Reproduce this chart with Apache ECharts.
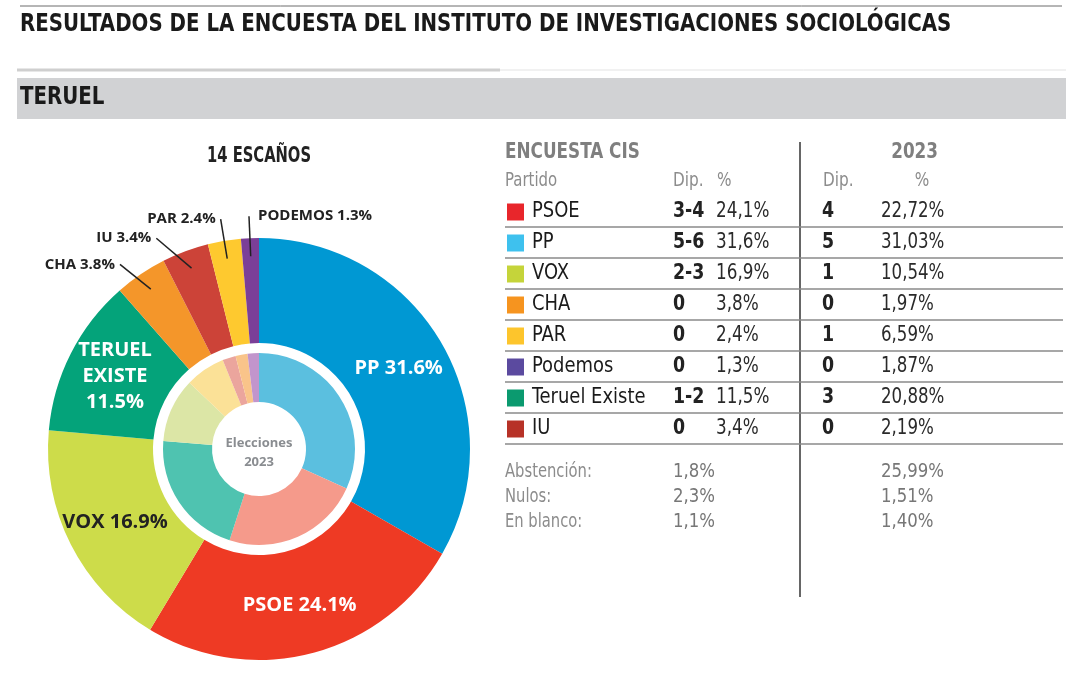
<!DOCTYPE html>
<html>
<head>
<meta charset="utf-8">
<script src="https://cdn.jsdelivr.net/npm/echarts@6/dist/echarts.min.js"></script>
<style>
  html, body { margin: 0; padding: 0; background: #fff; }
  #chart { width: 1080px; height: 675px; }
</style>
</head>
<body>
<div id="chart"></div>
<script>
// table rows, in the order of the table
const parties = ['PSOE', 'PP', 'VOX', 'CHA', 'PAR', 'Podemos', 'Teruel Existe', 'IU']
const pieNames = ['PSOE', 'PP', 'VOX', 'CHA', 'PAR', 'PODEMOS', 'TERUEL\nEXISTE', 'IU']
const dipCis = ['3-4', '5-6', '2-3', '0', '0', '0', '1-2', '0']
const pctCis = [24.1, 31.6, 16.9, 3.8, 2.4, 1.3, 11.5, 3.4]
const dip2023 = ['4', '5', '1', '0', '1', '0', '3', '0']
const pct2023 = [22.72, 31.03, 10.54, 1.97, 6.59, 1.87, 20.88, 2.19]
const otherLabels = ['Abstención:', 'Nulos:', 'En blanco:']
const otherCis = [1.8, 2.3, 1.1]
const other2023 = [25.99, 1.51, 1.40]
const seats = 14

// colours
const tableColors = ['#e8262b', '#3ec1ee', '#c5d43a', '#f6941f', '#fdc52c', '#5b4a9f', '#0b9a6f', '#b73227']
const outerColors = ['#ee3a24', '#0098d3', '#cddc4a', '#f4962a', '#fec92f', '#7b3f98', '#04a37a', '#cc4338']
const innerColors = ['#f59a8b', '#5bbfdf', '#dce6a6', '#f9c48a', '#fbe197', '#c295cc', '#4fc3b0', '#eba59d']

// no narrow font installed, so condensed text is squeezed with scaleX
const narrow = '"Liberation Sans Narrow", "DejaVu Sans Condensed", sans-serif'
const sans = '"Open Sans", "Noto Sans", sans-serif'

const fmtComma = (v, d) => v.toFixed(d).replace('.', ',') + '%'

// leader line lengths for the small slices
const smallLines = { CHA: [12, 14], IU: [14, 24], PAR: [22, 0], PODEMOS: [22, 0] }

// slices, sorted like the rings (largest first, clockwise from the top)
const outerData = parties.map((p, i) => {
  const small = !!smallLines[pieNames[i]]
  const item = { name: pieNames[i], value: pctCis[i], itemStyle: { color: outerColors[i] } }
  if (small) item.label = { show: false }
  else if (pieNames[i] === 'VOX') item.label = { color: '#222' }
  return item
}).sort((a, b) => b.value - a.value)

// same slices, invisible, carrying the outside labels so their lines sit above the ring
const labelData = parties.map((p, i) => {
  const small = smallLines[pieNames[i]]
  const item = { name: pieNames[i], value: pctCis[i], itemStyle: { color: 'rgba(0,0,0,0)' } }
  if (small) item.labelLine = { show: true, length: small[0], length2: small[1] }
  else item.label = { show: false }
  return item
}).sort((a, b) => b.value - a.value)

const innerData = parties.map((p, i) => ({
  name: p, value: pct2023[i], itemStyle: { color: innerColors[i] },
})).sort((a, b) => b.value - a.value)

const graphics = []
const txt = (x, y, text, style, sx) => {
  graphics.push({
    type: 'text', x: x, y: y, scaleX: sx || 1, silent: true,
    style: Object.assign({ text: text, verticalAlign: 'middle', fill: '#222', font: '21px ' + narrow }, style),
  })
}
const line = (x1, y1, x2, y2, color, w) => {
  graphics.push({ type: 'line', silent: true, shape: { x1, y1, x2, y2 }, style: { stroke: color, lineWidth: w } })
}

// header
line(20, 6, 1062, 6, '#6d6d6d', 1)
txt(20, 24, 'RESULTADOS DE LA ENCUESTA DEL INSTITUTO DE INVESTIGACIONES SOCIOLÓGICAS',
  { font: 'bold 25px ' + narrow, fill: '#1a1a1a' }, 0.88)
line(17, 70, 1066, 70, '#e3e3e3', 1)
line(17, 70, 500, 70, '#cfcfcf', 3)
graphics.push({ type: 'rect', silent: true, shape: { x: 17, y: 78, width: 1049, height: 41 }, style: { fill: '#d1d2d4' } })
txt(20, 97, 'TERUEL', { font: 'bold 25px ' + narrow, fill: '#1a1a1a' }, 0.88)
txt(259, 157, seats + ' ESCAÑOS', { font: 'bold 21px ' + narrow, fill: '#222', align: 'center' }, 0.78)
txt(259, 453, 'Elecciones\n2023', { font: 'bold 13px ' + sans, fill: '#8a8d91', align: 'center', lineHeight: 19 })

// table
const grey = '#7f7f7f'
const light = '#8c8c8c'
txt(505, 152, 'ENCUESTA CIS', { font: 'bold 22px ' + narrow, fill: grey }, 0.85)
txt(938, 152, '2023', { font: 'bold 22px ' + narrow, fill: grey, align: 'right' }, 0.85)
txt(505, 181, 'Partido', { fill: light, font: '20px ' + narrow }, 0.83)
txt(673, 181, 'Dip.', { fill: light, font: '20px ' + narrow }, 0.85)
txt(717, 181, '%', { fill: light, font: '20px ' + narrow }, 0.85)
txt(823, 181, 'Dip.', { fill: light, font: '20px ' + narrow }, 0.85)
txt(922, 181, '%', { fill: light, font: '20px ' + narrow, align: 'center' }, 0.85)
line(800, 142, 800, 597, '#333', 1.5)

parties.forEach((p, i) => {
  const y = 212 + i * 31
  graphics.push({ type: 'rect', silent: true, shape: { x: 507, y: y - 8.5, width: 17, height: 17 }, style: { fill: tableColors[i] } })
  txt(532, y, p, { fill: '#1a1a1a' }, 0.95)
  txt(673, y, dipCis[i], { font: 'bold 21px ' + narrow }, 0.92)
  txt(716, y, fmtComma(pctCis[i], 1), { fill: '#2a2a2a' }, 0.89)
  txt(828, y, dip2023[i], { font: 'bold 21px ' + narrow, align: 'center' }, 0.92)
  txt(881, y, fmtComma(pct2023[i], 2), { fill: '#2a2a2a' }, 0.88)
  line(505, y + 15, 1063, y + 15, '#8a8a8a', 1.5)
})

otherLabels.forEach((l, i) => {
  const y = 472 + i * 25
  txt(505, y, l, { fill: light, font: '20px ' + narrow }, 0.82)
  txt(673, y, fmtComma(otherCis[i], 1), { fill: '#777', font: '20px ' + narrow }, 0.92)
  txt(881, y, fmtComma(other2023[i], 2), { fill: '#777', font: '20px ' + narrow }, 0.92)
})

// straight leader line running from inside the slice to the label
const straightLine = (pts) => {
  const dx = pts[0][0] - pts[1][0]
  const dy = pts[0][1] - pts[1][1]
  const len = Math.sqrt(dx * dx + dy * dy) || 1
  const start = [pts[0][0] + dx / len * 18, pts[0][1] + dy / len * 18]
  return [start, pts[pts.length - 1]]
}

const pctLabel = (p) => p.name.indexOf('\n') >= 0
  ? p.name + '\n' + p.value.toFixed(1) + '%'
  : p.name + ' ' + p.value.toFixed(1) + '%'

const chart = echarts.init(document.getElementById('chart'))
chart.setOption({
  backgroundColor: '#fff',
  animation: false,
  graphic: graphics,
  series: [
    {
      type: 'pie',
      center: [259, 449],
      radius: [106, 211],
      startAngle: 90,
      silent: true,
      label: {
        position: 'inside',
        color: '#fff',
        fontFamily: sans,
        fontWeight: 'bold',
        fontSize: 20,
        lineHeight: 26,
        formatter: pctLabel,
      },
      labelLine: { show: false },
      data: outerData,
    },
    {
      type: 'pie',
      z: 3,
      center: [259, 449],
      radius: [106, 211],
      startAngle: 90,
      avoidLabelOverlap: false,
      silent: true,
      label: {
        position: 'outside',
        color: '#222',
        fontFamily: sans,
        fontWeight: 'bold',
        fontSize: 15,
        formatter: pctLabel,
      },
      labelLine: { show: true, length: 22, length2: 0, lineStyle: { color: '#222', width: 1.5 } },
      labelLayout: (p) => {
        if (!p.labelLinePoints) return {}
        if (p.text.indexOf('PODEMOS') === 0) {
          return { align: 'left', dx: 14, labelLinePoints: straightLine(p.labelLinePoints) }
        }
        return { labelLinePoints: straightLine(p.labelLinePoints) }
      },
      data: labelData,
    },
    {
      type: 'pie',
      center: [259, 449],
      radius: [47, 96],
      startAngle: 90,
      silent: true,
      label: { show: false },
      labelLine: { show: false },
      data: innerData,
    },
  ],
})
</script>
</body>
</html>
